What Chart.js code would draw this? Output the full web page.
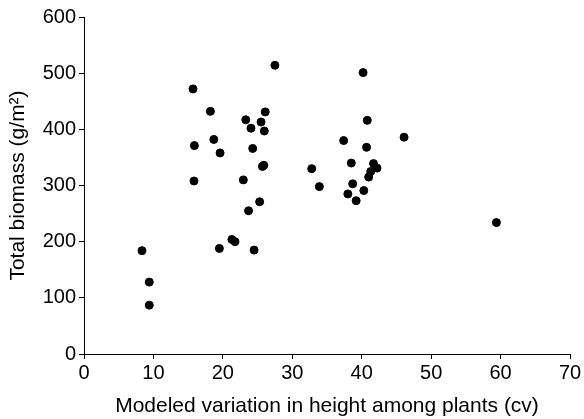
<!DOCTYPE html>
<html>
<head>
<meta charset="utf-8">
<script src="https://cdn.jsdelivr.net/npm/chart.js@4/dist/chart.umd.min.js"></script>
<style>
 html,body{margin:0;padding:0;background:#fff;}
 #c{display:block;}
</style>
</head>
<body>
<canvas id="c" width="584" height="419"></canvas>
<script>
// height variation (cv) vs total biomass
const cvValues=[27.5,15.7,18.2,26.1,23.3,25.5,24.05,25.97,18.7,15.9,24.3,19.6,25.7,25.9,
 15.84,22.95,25.3,23.7,21.3,21.75,19.5,24.5,
 8.35,9.4,9.4,
 40.2,40.8,46.1,37.4,40.7,32.8,
 38.5,41.7,42.2,41.3,41.0,33.9,38.7,40.3,38.0,39.2,
 59.4];
const biomassValues=[514,472,432,431,417,413,402,397,382,371,366,358,334,336,
 308,310,271,255,204,200,188,185,
 184,128,87,
 501,416,386,380,368,330,
 340,339,331,325,315,298,303,291,285,273,
 234];
const xTicks=[0,10,20,30,40,50,60,70];
const yTicks=[0,100,200,300,400,500,600];

const pts=cvValues.map((x,i)=>({x:x,y:biomassValues[i]}));
const FONT='"Liberation Sans", Arial, sans-serif';

new Chart(document.getElementById('c'),{
 type:'scatter',
 data:{datasets:[{data:pts,backgroundColor:'#000',borderColor:'#000',pointRadius:4,pointHoverRadius:4}]},
 options:{
  responsive:false,animation:false,
  layout:{padding:{top:17,right:14,bottom:0,left:0}},
  plugins:{legend:{display:false},tooltip:{enabled:false}},
  scales:{
   x:{
    type:'linear',min:0,max:70,
    afterBuildTicks:s=>{s.ticks=xTicks.map(v=>({value:v}));},
    afterFit:s=>{s.height=65;},
    grid:{display:true,drawOnChartArea:false,drawTicks:true,tickLength:5,color:'#000',lineWidth:1},
    border:{display:true,color:'#000',width:1},
    ticks:{color:'#000',font:{family:FONT,size:20},padding:2,maxRotation:0},
    title:{display:true,text:'Modeled variation in height among plants (cv)',color:'#000',font:{family:FONT,size:21},padding:{top:3,bottom:0}}
   },
   y:{
    type:'linear',min:0,max:600,
    afterBuildTicks:s=>{s.ticks=yTicks.map(v=>({value:v}));},
    afterFit:s=>{s.width=84;},
    grid:{display:true,drawOnChartArea:false,drawTicks:true,tickLength:5,color:'#000',lineWidth:1},
    border:{display:true,color:'#000',width:1},
    ticks:{color:'#000',font:{family:FONT,size:20},padding:3},
    title:{display:true,text:'Total biomass (g/m\u00B2)',color:'#000',font:{family:FONT,size:21},padding:{top:6,bottom:4}}
   }
  }
 }
});
</script>
</body>
</html>
